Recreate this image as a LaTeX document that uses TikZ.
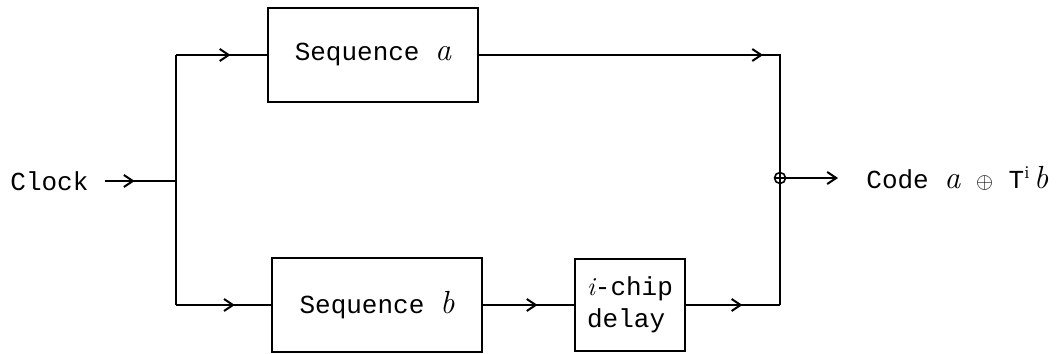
\documentclass[tikz,border=0pt]{standalone}
\usepackage{fontspec}
\setmonofont{Liberation Mono}
\usetikzlibrary{arrows.meta,decorations.markings}
\newcommand{\labfont}{\fontsize{13}{16}\selectfont\ttfamily}
\newcommand{\seqa}{{\fontsize{16}{16}\selectfont\rmfamily\itshape a}}
\newcommand{\seqb}{{\fontsize{16}{16}\selectfont\rmfamily\itshape b}}
\newcommand{\xorsym}{{\fontsize{11}{16}\selectfont\rmfamily$\oplus$}}
\tikzset{
  wire/.style={line width=1.1pt},
  block/.style={draw, line width=1.1pt, inner sep=0pt, font=\labfont},
  barb/.tip={Straight Barb[length=4.5pt,width=6pt,line width=1pt]},
  midarrow/.style={postaction={decorate},
    decoration={markings, mark=at position #1 with {\arrow{barb}}}},
  midarrow/.default=0.5,
  xorgate/.style={circle, draw, line width=0.8pt, inner sep=0pt, minimum size=5.5pt,
    path picture={
      \draw[line width=0.6pt] (path picture bounding box.north) -- (path picture bounding box.south)
        (path picture bounding box.west) -- (path picture bounding box.east);}},
}
\begin{document}
\begin{tikzpicture}[x=0.5pt, y=-0.5pt]
  \useasboundingbox (0,0) rectangle (1058,353);

  % input
  \node[anchor=west, font=\labfont, inner sep=0pt] (clk) at (10,181) {Clock};
  \coordinate (split) at (176,181);
  \coordinate (tl) at (176,55);
  \coordinate (bl) at (176,305);

  % blocks
  \node[block, minimum width=105pt, minimum height=47pt] (seqa) at (373,55)
    {Sequence \seqa};
  \node[block, minimum width=105pt, minimum height=47pt] (seqb) at (377,305)
    {Sequence \seqb};
  \node[block, minimum width=55pt, minimum height=46pt, align=left] (dly) at (630,305)
    {{\rmfamily\itshape i}-chip\\delay};

  % modulo-2 adder and output
  \node[xorgate] (xor) at (780,178) {};
  \coordinate (tr) at (780,55);
  \coordinate (br) at (780,305);
  \node[anchor=west, font=\labfont, inner sep=0pt] (code) at (866,178)
    {Code \seqa{} \xorsym{} T\raisebox{5pt}{\fontsize{9}{9}\selectfont\rmfamily i}\,\seqb};
  \coordinate (outend) at (838,178);

  % connections
  \draw[wire, midarrow=0.42] ([xshift=8pt]clk.east) -- (split);
  \draw[wire] (tl) -- (bl);
  \draw[wire, midarrow=0.6] (tl) -- (seqa.west);
  \draw[wire, midarrow=0.62] (bl) -- (seqb.west);
  \draw[wire, midarrow=0.68] (seqa.east) -- (tr) -- (xor.north);
  \draw[wire, midarrow=0.6] (seqb.east) -- (dly.west);
  \draw[wire, midarrow=0.6] (dly.east) -- (br);
  \draw[wire] (br) -- (xor.south);
  \draw[wire, -barb] (xor.east) -- (outend);
\end{tikzpicture}
\end{document}
